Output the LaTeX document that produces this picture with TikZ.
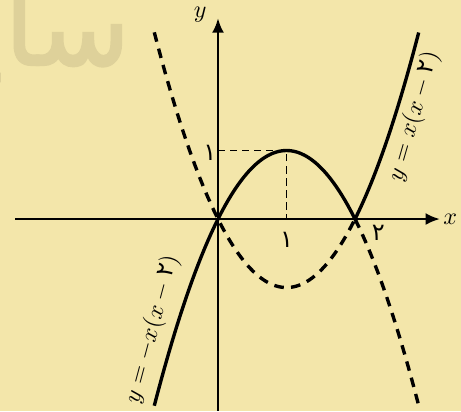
\documentclass[tikz,border=0pt]{standalone}
\usepackage{fontspec}
\usepackage{tikz}
\usetikzlibrary{arrows.meta}
\TeXXeTstate=1
\newfontfamily\persianfont[Script=Arabic]{DejaVu Sans}
\newfontfamily\wmfont[Script=Arabic, FakeBold=1.5]{DejaVu Sans}
\definecolor{paper}{RGB}{243,230,170}
\definecolor{wmcolor}{RGB}{222,209,154}

\tikzset{
  axis/.style={line width=1pt, -{Latex[length=6pt,width=5pt]}},
  curve/.style={line width=1.4pt, samples=80},
  dcurve/.style={curve, dash pattern=on 4pt off 3pt},
  guide/.style={line width=0.4pt, dash pattern=on 3pt off 2pt},
}

\begin{document}
\begin{tikzpicture}
    \useasboundingbox[fill=paper] (-3.182,-2.803) rectangle (3.547,3.197);

    % watermark
    \node[text=wmcolor, anchor=east, inner sep=0pt, font=\wmfont\fontsize{46}{48}\selectfont] (wmark) at (-1.27,2.74) {\beginR سایت\endR};

    % axes
    \draw[axis] (-2.96,0) -- (3.24,0);
    \draw[axis] (0,-2.8) -- (0,2.93);
    \node (xlab) at (3.39,0) {$x$};
    \node (ylab) at (-0.26,2.98) {$y$};

    % guides to the vertex
    \draw[guide] (0,1) -- (1,1) -- (1,0);
    \node[font=\persianfont] (yone) at (-0.12,0.96) {۱};
    \node[font=\persianfont] (xone) at (1,-0.3) {۱};
    \node[font=\persianfont] (xtwo) at (2.34,-0.2) {۲};

    % curves
    \draw[curve, domain=-0.93:2] plot (\x, {-\x*(\x-2)});
    \draw[curve, domain=2:2.93] plot (\x, {\x*(\x-2)});
    \draw[dcurve, domain=-0.93:2] plot (\x, {\x*(\x-2)});
    \draw[dcurve, domain=2:2.93] plot (\x, {-\x*(\x-2)});

    \node[rotate=74] (rlab) at (2.86,1.5) {$y=x(x-\mbox{\persianfont ۲})$};
    \node[rotate=75] (llab) at (-0.96,-1.61) {$y=-x(x-\mbox{\persianfont ۲})$};
\end{tikzpicture}
\end{document}
